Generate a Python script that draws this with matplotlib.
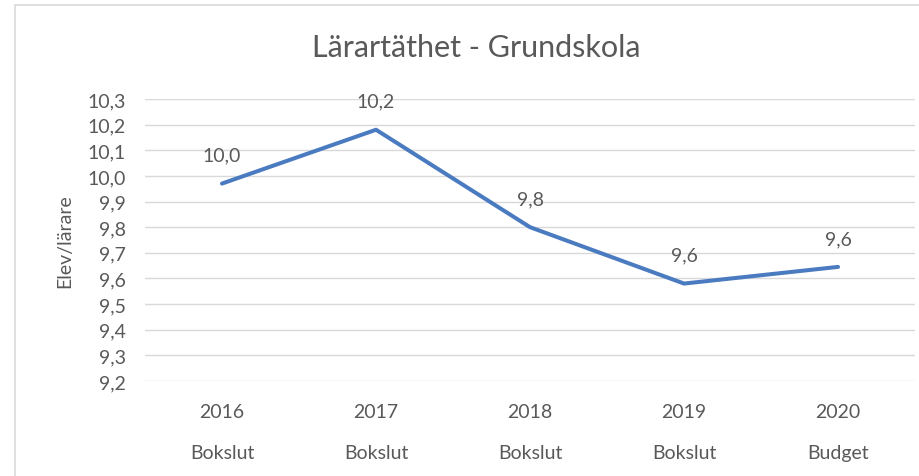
import matplotlib
matplotlib.use("Agg")
import matplotlib.pyplot as plt
from matplotlib.patches import Rectangle

# data
years = ['2016', '2017', '2018', '2019', '2020']
typ = ['Bokslut', 'Bokslut', 'Bokslut', 'Bokslut', 'Budget']
elev_per_larare = [9.97, 10.18, 9.80, 9.58, 9.645]
labels = ['10,0', '10,2', '9,8', '9,6', '9,6']
yticks = [9.2, 9.3, 9.4, 9.5, 9.6, 9.7, 9.8, 9.9, 10.0, 10.1, 10.2, 10.3]

plt.rcParams['font.family'] = ['Lato', 'DejaVu Sans']
grey = '#595959'
fs = 14

fig = plt.figure(figsize=(9.2, 4.77), dpi=100)
ax = fig.add_axes([0.1576, 0.1992, 0.8370, 0.5912])

x = range(len(years))
ax.plot(x, elev_per_larare, color='#4A7BC0', linewidth=2.9, solid_capstyle='round')

# data labels
for xi, v, lab in zip(x, elev_per_larare, labels):
    ax.annotate(lab, (xi, v), xytext=(0, 20.5),
                textcoords='offset points', ha='center', va='center',
                fontsize=fs, color=grey)

ax.set_xlim(-0.5, len(years) - 0.5)
ax.set_ylim(9.2, 10.3)
ax.set_yticks(yticks)
ax.set_yticklabels([f'{t:.1f}'.replace('.', ',') for t in yticks], fontsize=fs, color=grey)
ax.yaxis.grid(True, color='#D9D9D9', linewidth=1)
ax.set_axisbelow(True)
ax.tick_params(axis='both', length=0, pad=14)
for s in ax.spines.values():
    s.set_visible(False)

# two-level category labels
ax.set_xticks(list(x))
ax.set_xticklabels([f'{y}\n\n{t}' for y, t in zip(years, typ)], fontsize=fs,
                   color=grey, linespacing=1.25)
ax.tick_params(axis='x', pad=16)

ax.set_ylabel('Elev/lärare', fontsize=fs, color=grey, labelpad=10)
fig.text(0.518, 0.90, 'Lärartäthet - Grundskola', ha='center', va='center',
         fontsize=22, color=grey)

# chart border
fig.patches.append(Rectangle((15 / 920, -0.01), 1.2, 1 - 6 / 477 + 0.01,
                             transform=fig.transFigure, fill=False,
                             edgecolor='#D9D9D9', linewidth=1.2))

fig.savefig('out.png', dpi=100)
